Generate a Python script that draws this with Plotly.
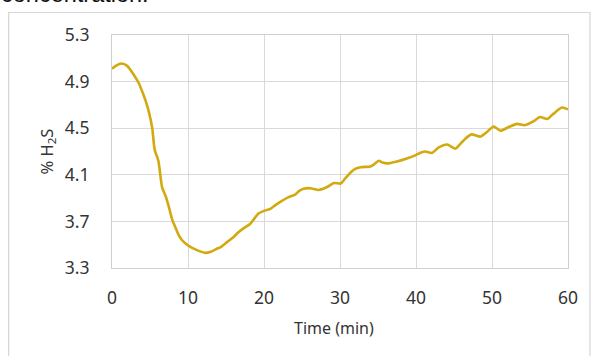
import plotly.graph_objects as go

time_min = [0, 0.6, 1.25, 2.0, 2.9, 3.5, 4.0, 4.5, 4.85, 5.3, 5.6, 6.1, 6.6, 7.04, 7.5, 7.9,
            8.4, 8.8, 9.2, 9.67, 10.2, 10.76, 11.5, 12.3, 13.0, 13.8, 14.3, 15.0, 16.0, 16.6,
            17.3, 18.2, 18.8, 19.3, 20.0, 20.9, 21.5, 22.2, 23.3, 24.1, 24.6, 25.2, 26.1, 27.2,
            28.3, 29.2, 30.1, 30.7, 31.4, 32.0, 32.7, 34.0, 34.5, 35.1, 35.6, 36.2, 37.5, 38.8,
            39.9, 40.6, 41.25, 42.1, 43.0, 44.1, 45.2, 45.9, 46.5, 47.3, 48.5, 49.3, 50.2, 51.1,
            52.2, 53.3, 54.3, 55.5, 56.3, 57.3, 58.1, 59.2, 60]
h2s_pct = [5.01, 5.04, 5.055, 5.035, 4.955, 4.89, 4.81, 4.72, 4.64, 4.50, 4.32, 4.22, 3.99, 3.92,
           3.82, 3.72, 3.64, 3.58, 3.54, 3.51, 3.485, 3.466, 3.445, 3.43, 3.44, 3.465, 3.48,
           3.515, 3.566, 3.605, 3.64, 3.68, 3.73, 3.77, 3.79, 3.81, 3.84, 3.87, 3.91, 3.93, 3.96,
           3.98, 3.985, 3.97, 3.995, 4.03, 4.025, 4.07, 4.12, 4.15, 4.165, 4.172, 4.19, 4.22,
           4.205, 4.198, 4.215, 4.24, 4.267, 4.29, 4.30, 4.288, 4.335, 4.36, 4.325, 4.37, 4.41,
           4.447, 4.428, 4.465, 4.515, 4.478, 4.51, 4.537, 4.525, 4.56, 4.596, 4.58, 4.625,
           4.677, 4.662]

x_ticks = [0, 10, 20, 30, 40, 50, 60]
y_ticks = [3.3, 3.7, 4.1, 4.5, 4.9, 5.3]
y_tick_labels = ["3.3", "3.7", "4.1", "4.5", "4.9", "5.3"]

W, H = 594, 356
L, R, T, B = 111.5, 26, 35, 88
pw, ph = W - L - R, H - T - B

def px_x(p):
    return (p - L) / pw

def px_y(p):
    return (H - B - p) / ph

fig = go.Figure()
fig.add_trace(go.Scatter(x=time_min, y=h2s_pct, mode="lines",
                         line=dict(color="#D2A90F", width=2.6, shape="spline", smoothing=0.6),
                         showlegend=False, hoverinfo="skip"))

font_fam = "Noto Sans, Open Sans, sans-serif"
grid = "#d9d9d9"
fig.update_layout(
    width=W, height=H, margin=dict(l=L, r=R, t=T, b=B, pad=0),
    paper_bgcolor="white", plot_bgcolor="white",
    font=dict(family=font_fam, size=17, color="#333333"),
    xaxis=dict(range=[0, 60], tickvals=x_ticks, showgrid=True, gridcolor=grid, gridwidth=1,
               showline=True, linecolor="#cfcfcf", linewidth=1, mirror=True,
               zeroline=False, ticks="", ticklabelstandoff=14,
               tickfont=dict(size=17.5, color="#333333")),
    yaxis=dict(range=[3.3, 5.3], tickvals=y_ticks, ticktext=y_tick_labels, showgrid=True,
               gridcolor=grid, gridwidth=1, showline=True, linecolor="#cfcfcf", linewidth=1,
               mirror=True, zeroline=False, ticks="", ticklabelstandoff=18,
               tickfont=dict(size=17.5, color="#333333")),
    shapes=[dict(type="rect", xref="paper", yref="paper",
                 x0=px_x(8), x1=px_x(590), y0=px_y(362), y1=px_y(12.5),
                 line=dict(color="#d6d6d6", width=1.2), fillcolor="rgba(0,0,0,0)", layer="below")],
    annotations=[
        dict(text="Time (min)", xref="paper", yref="paper", x=px_x(334), y=px_y(328),
             xanchor="center", yanchor="middle", showarrow=False,
             font=dict(family=font_fam, size=16, color="#333333")),
        dict(text="% H<sub>2</sub>S", xref="paper", yref="paper", x=px_x(46), y=px_y(152),
             xanchor="center", yanchor="middle", showarrow=False, textangle=-90,
             font=dict(family=font_fam, size=16.5, color="#333333")),
        dict(text="concentration:", xref="paper", yref="paper", x=px_x(-2), y=px_y(-6),
             xanchor="left", yanchor="middle", showarrow=False,
             font=dict(family="Liberation Sans, Arial, sans-serif", size=23.5, color="#111111")),
    ],
)

fig.write_html("out.html", config={"displayModeBar": False},
               post_script="document.body.style.margin='0';document.body.style.overflow='hidden';")
